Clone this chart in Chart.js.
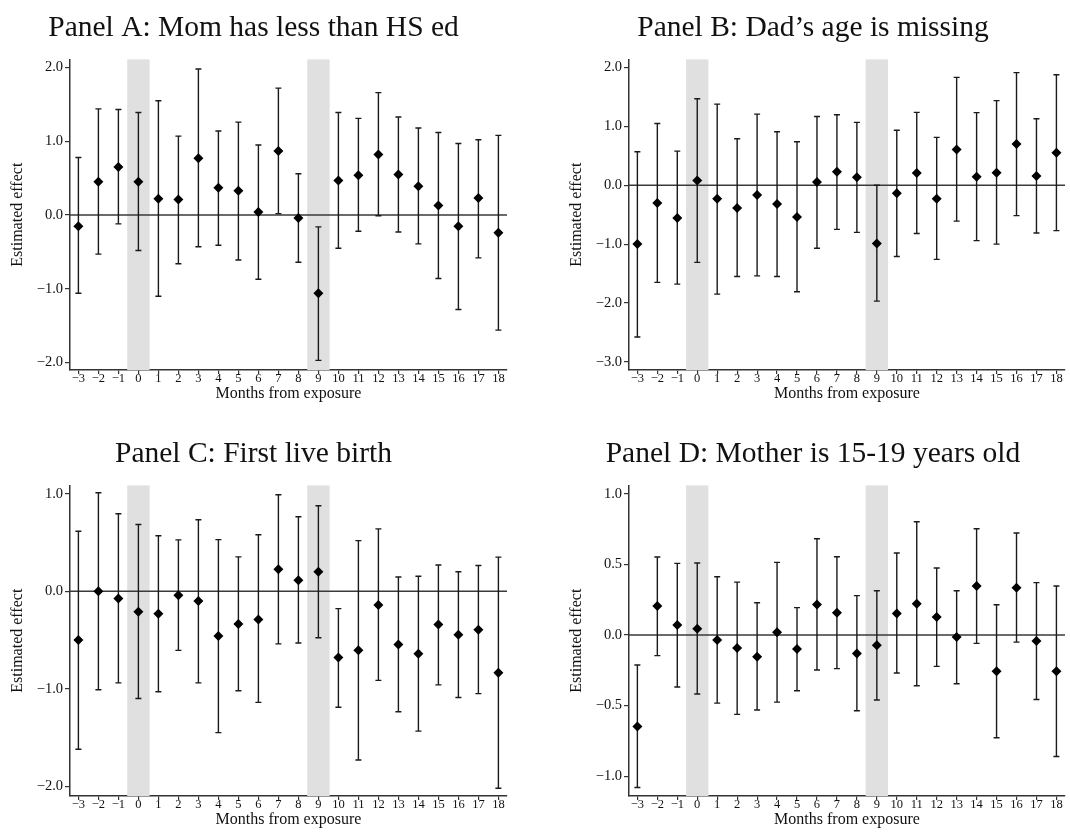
<!DOCTYPE html>
<html>
<head>
<meta charset="utf-8">
<title>Estimated effects by month from exposure</title>
<script src="https://cdn.jsdelivr.net/npm/chart.js@4.4.1/dist/chart.umd.min.js"></script>
<style>
    html, body {
        margin: 0;
        padding: 0;
        background: #ffffff;
    }

    body {
        width: 1070px;
        height: 835px;
        position: relative;
        overflow: hidden;
    }

    canvas {
        position: absolute;
    }

    #chartA { left: 0px;   top: 0px; }
    #chartB { left: 559px; top: 0px; }
    #chartC { left: 0px;   top: 426px; }
    #chartD { left: 559px; top: 426px; }
</style>
</head>
<body>

<canvas id="chartA" width="512" height="409"></canvas>
<canvas id="chartB" width="511" height="409"></canvas>
<canvas id="chartC" width="512" height="409"></canvas>
<canvas id="chartD" width="511" height="409"></canvas>

<script>

// months relative to exposure (x categories / tick labels)
const months = [-3, -2, -1, 0, 1, 2, 3, 4, 5, 6, 7, 8, 9, 10, 11, 12, 13, 14, 15, 16, 17, 18];

// months that get the grey band
const shadedMonths = [0, 9];

// Panel A: Mom has less than HS ed
const estA = [-0.15, 0.45, 0.65, 0.45, 0.22, 0.21, 0.77, 0.37, 0.33, 0.04, 0.87, -0.04, -1.06, 0.47, 0.54, 0.82, 0.55, 0.39, 0.13, -0.15, 0.23, -0.24];
const loA  = [-1.06, -0.53, -0.12, -0.48, -1.10, -0.66, -0.43, -0.41, -0.61, -0.87, 0.02, -0.64, -1.97, -0.45, -0.22, -0.01, -0.23, -0.39, -0.86, -1.28, -0.58, -1.56];
const hiA  = [0.78, 1.44, 1.43, 1.39, 1.55, 1.07, 1.98, 1.14, 1.26, 0.95, 1.72, 0.56, -0.16, 1.39, 1.31, 1.66, 1.33, 1.18, 1.12, 0.97, 1.02, 1.08];
const yTicksA = [-2, -1, 0, 1, 2];

// Panel B: Dad's age is missing
const estB = [-1.00, -0.30, -0.555, 0.08, -0.23, -0.385, -0.165, -0.32, -0.54, 0.057, 0.23, 0.135, -0.99, -0.135, 0.21, -0.23, 0.61, 0.147, 0.215, 0.70, 0.16, 0.555];
const loB  = [-2.58, -1.65, -1.68, -1.31, -1.85, -1.55, -1.54, -1.55, -1.81, -1.07, -0.75, -0.80, -1.97, -1.21, -0.82, -1.26, -0.61, -0.94, -1.00, -0.515, -0.81, -0.77];
const hiB  = [0.57, 1.05, 0.58, 1.47, 1.38, 0.79, 1.21, 0.91, 0.74, 1.17, 1.20, 1.07, 0.0, 0.935, 1.24, 0.815, 1.835, 1.235, 1.44, 1.915, 1.13, 1.88];
const yTicksB = [-3, -2, -1, 0, 1, 2];

// Panel C: First live birth
const estC = [-0.50, 0.0, -0.075, -0.21, -0.23, -0.04, -0.10, -0.46, -0.335, -0.29, 0.226, 0.113, 0.20, -0.68, -0.606, -0.14, -0.545, -0.64, -0.342, -0.445, -0.394, -0.836];
const loC  = [-1.62, -1.01, -0.94, -1.10, -1.03, -0.606, -0.94, -1.45, -1.02, -1.14, -0.54, -0.53, -0.476, -1.19, -1.73, -0.914, -1.236, -1.435, -0.96, -1.09, -1.05, -2.02];
const hiC  = [0.615, 1.01, 0.795, 0.685, 0.57, 0.527, 0.733, 0.53, 0.353, 0.58, 0.99, 0.764, 0.877, -0.178, 0.52, 0.64, 0.147, 0.154, 0.27, 0.20, 0.264, 0.35];
const yTicksC = [-2, -1, 0, 1];

// Panel D: Mother is 15-19 years old
const estD = [-0.647, 0.205, 0.071, 0.045, -0.035, -0.092, -0.153, 0.019, -0.099, 0.217, 0.158, -0.13, -0.073, 0.153, 0.222, 0.128, -0.014, 0.347, -0.257, 0.335, -0.0425, -0.257];
const loD  = [-1.08, -0.146, -0.368, -0.418, -0.482, -0.562, -0.531, -0.475, -0.394, -0.248, -0.238, -0.536, -0.46, -0.269, -0.359, -0.222, -0.345, -0.059, -0.727, -0.05, -0.456, -0.86];
const hiD  = [-0.2125, 0.553, 0.508, 0.51, 0.413, 0.375, 0.229, 0.515, 0.194, 0.682, 0.555, 0.279, 0.314, 0.581, 0.803, 0.475, 0.314, 0.753, 0.215, 0.723, 0.371, 0.347];
const yTicksD = [-1, -0.5, 0, 0.5, 1];


const SERIF = "'Liberation Serif', 'Times New Roman', serif";
const INK = "#111111";

function minusSign(text) {
    return text.replace("-", "\u2212");
}

function fmtX(v) {
    return minusSign(String(v));
}

function fmtY(v) {
    return minusSign(v.toFixed(1));
}

// grey bands, zero line and the CI whiskers, drawn under the diamonds
const errorBarPlugin = {

    id: "errorBars",

    beforeDatasetsDraw(chart) {

        const ctx = chart.ctx;
        const area = chart.chartArea;
        const xs = chart.scales.x;
        const ys = chart.scales.y;

        ctx.save();

        ctx.fillStyle = "#e0e0e0";

        shadedMonths.forEach(m => {
            const x0 = xs.getPixelForValue(m - 0.56);
            const x1 = xs.getPixelForValue(m + 0.56);
            ctx.fillRect(x0, area.top, x1 - x0, area.bottom - area.top);
        });

        const y0 = ys.getPixelForValue(0);

        ctx.strokeStyle = "#3a3a3a";
        ctx.lineWidth = 1.5;
        ctx.beginPath();
        ctx.moveTo(area.left, y0);
        ctx.lineTo(area.right, y0);
        ctx.stroke();

        const ds = chart.data.datasets[0];
        const cap = 3;

        ctx.strokeStyle = "#1a1a1a";
        ctx.lineWidth = 1.4;

        ds.lo.forEach((lo, i) => {

            const px = xs.getPixelForValue(months[i]);
            const pLo = ys.getPixelForValue(lo);
            const pHi = ys.getPixelForValue(ds.hi[i]);

            ctx.beginPath();
            ctx.moveTo(px, pHi);
            ctx.lineTo(px, pLo);
            ctx.moveTo(px - cap, pHi);
            ctx.lineTo(px + cap, pHi);
            ctx.moveTo(px - cap, pLo);
            ctx.lineTo(px + cap, pLo);
            ctx.stroke();
        });

        ctx.restore();
    }
};

function makePanel(canvasId, title, est, lo, hi, yMin, yMax, yTicks, padRight) {

    const ctx =
        document
        .getElementById(canvasId)
        .getContext("2d");

    return new Chart(ctx, {

        type: "scatter",

        data: {

            datasets: [

                {
                    data: months.map((m, i) => ({ x: m, y: est[i] })),

                    lo: lo,

                    hi: hi,

                    pointStyle: "rectRot",

                    pointRadius: 5,

                    backgroundColor: "#000000",

                    borderWidth: 0
                }
            ]
        },

        options: {

            responsive: false,

            animation: false,

            devicePixelRatio: 1,

            layout: {
                padding: { left: 0, right: padRight, top: 0, bottom: 4 }
            },

            plugins: {

                legend: { display: false },

                tooltip: { enabled: false },

                title: {

                    display: true,

                    text: title,

                    color: INK,

                    font: { family: SERIF, size: 29.5, weight: "normal", lineHeight: 1.2 },

                    padding: { top: 11, bottom: 13 }
                }
            },

            scales: {

                x: {

                    type: "linear",

                    min: -3.42,

                    max: 18.43,

                    afterBuildTicks: s => {
                        s.ticks = months.map(v => ({ value: v }));
                    },

                    afterFit: s => {
                        s.height = 35;
                    },

                    grid: {
                        drawOnChartArea: false,
                        drawTicks: true,
                        tickLength: 4,
                        color: "#333333",
                        lineWidth: 1.2
                    },

                    border: {
                        display: true,
                        color: "#333333",
                        width: 1.5
                    },

                    ticks: {
                        autoSkip: false,
                        maxRotation: 0,
                        padding: -3,
                        color: INK,
                        font: { family: SERIF, size: 12.5 },
                        callback: v => fmtX(v)
                    },

                    title: {
                        display: true,
                        text: "Months from exposure",
                        color: INK,
                        font: { family: SERIF, size: 16 },
                        padding: { top: 0, bottom: 2 }
                    }
                },

                y: {

                    min: yMin,

                    max: yMax,

                    afterBuildTicks: s => {
                        s.ticks = yTicks.map(v => ({ value: v }));
                    },

                    afterFit: s => {
                        s.width = 70;
                    },

                    grid: {
                        drawOnChartArea: false,
                        drawTicks: true,
                        tickLength: 5,
                        color: "#333333",
                        lineWidth: 1.2
                    },

                    border: {
                        display: true,
                        color: "#333333",
                        width: 1.5
                    },

                    ticks: {
                        padding: 2,
                        color: INK,
                        font: { family: SERIF, size: 14.5 },
                        callback: v => fmtY(v)
                    },

                    title: {
                        display: true,
                        text: "Estimated effect",
                        color: INK,
                        font: { family: SERIF, size: 16 },
                        padding: { top: 8, bottom: 0 }
                    }
                }
            }
        },

        plugins: [errorBarPlugin]
    });
}

makePanel("chartA", "Panel A: Mom has less than HS ed", estA, loA, hiA, -2.10, 2.11, yTicksA, 5);

makePanel("chartB", "Panel B: Dad\u2019s age is missing", estB, loB, hiB, -3.14, 2.14, yTicksB, 3);

makePanel("chartC", "Panel C: First live birth", estC, loC, hiC, -2.10, 1.086, yTicksC, 5);

makePanel("chartD", "Panel D: Mother is 15-19 years old", estD, loD, hiD, -1.14, 1.06, yTicksD, 3);

</script>
</body>
</html>
